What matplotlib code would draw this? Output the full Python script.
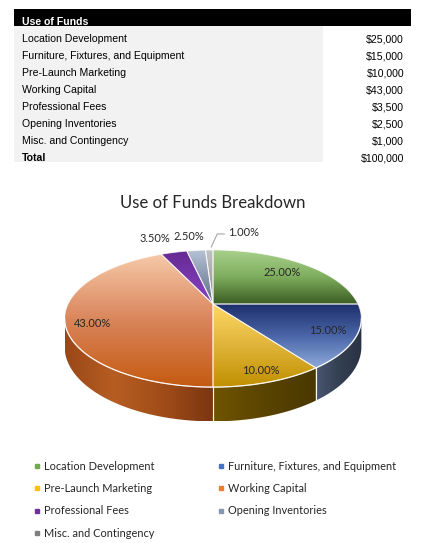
import numpy as np
import matplotlib
matplotlib.use('Agg')
import matplotlib.pyplot as plt
from matplotlib.patches import Polygon, Rectangle
from matplotlib.colors import LinearSegmentedColormap

# data
items = ['Location Development', 'Furniture, Fixtures, and Equipment',
         'Pre-Launch Marketing', 'Working Capital', 'Professional Fees',
         'Opening Inventories', 'Misc. and Contingency']
amounts = [25000, 15000, 10000, 43000, 3500, 2500, 1000]
table_title = 'Use of Funds'
total_label = 'Total'
chart_title = 'Use of Funds Breakdown'

# colours (top gradient, side gradient, legend)
top_colors = [['#a9d18e', '#7fae5e', '#3b5d24'],
              ['#1e2f6b', '#4a66a8', '#8eaadb'],
              ['#ffd966', '#e0b43a', '#c09000'],
              ['#f6c9a8', '#d9845a', '#c55a11'],
              ['#652a92', '#8a44c4'],
              ['#b6c2d4', '#5a6b86'],
              ['#c4c4c4', '#8c8c8c']]
side_colors = {1: ['#4a5670', '#333f52', '#2a3344'],
               2: ['#705400', '#5a4400', '#4a3800'],
               3: ['#9a4818', '#b65d22', '#a04c18', '#7a3510']}
legend_colors = ['#70ad47', '#4472c4', '#ffc000', '#ed7d31', '#7030a0',
                 '#8497b0', '#7f7f7f']

W, H = 430, 543
fig = plt.figure(figsize=(W / 100, H / 100), dpi=100)
ax = fig.add_axes([0, 0, 1, 1])
ax.set_xlim(0, W)
ax.set_ylim(H, 0)
ax.axis('off')

# ---------------- table ----------------
tfont = 'Liberation Sans'
tsize = 7.6
hdr = Rectangle((14, 9), 397, 17, facecolor='black', edgecolor='none')
ax.add_patch(hdr)
ax.add_patch(Rectangle((14, 26), 309, 136, facecolor='#f2f2f2', edgecolor='none'))
t = ax.text(22, 25.3, table_title, color='white', fontsize=tsize,
            fontweight='bold', family=tfont)
t.set_clip_path(hdr)

total = sum(amounts)
rows = items + [total_label]
vals = amounts + [total]
for i, (name, v) in enumerate(zip(rows, vals)):
    base = 42.3 + 17 * i
    bold = 'bold' if name == total_label else 'normal'
    clip = Rectangle((0, base - 14), W, 15.3, transform=ax.transData)
    t1 = ax.text(22, base, name, fontsize=tsize, family=tfont,
                 fontweight=bold, color='black')
    t2 = ax.text(404, base, '${:,}'.format(v), fontsize=tsize, family=tfont,
                 ha='right', color='black')
    t1.set_clip_path(clip)
    t2.set_clip_path(clip)

# ---------------- 3D pie ----------------
cfont = 'Lato'
CX, CY = 213, 304
RX, RY = 145, 65.5
K = 0.212
DEPTH = 27
SIL = np.degrees(np.arcsin(K))


def proj(theta, r=1.0, drop=0.0):
    t = np.radians(theta)
    u = r * np.cos(t)
    v = r * np.sin(t)
    w = 1 + K * v
    return CX + RX * u / w, CY - RY * v / w + drop / w


def arc(a, b, drop=0.0, n=80):
    th = np.linspace(a, b, n)
    x, y = proj(th, 1.0, drop)
    return np.column_stack([x, y])


def grad_fill(verts, colors, vertical=True, z=2):
    poly = Polygon(verts, closed=True, facecolor='none', edgecolor='none')
    ax.add_patch(poly)
    x0, x1 = verts[:, 0].min(), verts[:, 0].max()
    y0, y1 = verts[:, 1].min(), verts[:, 1].max()
    cmap = LinearSegmentedColormap.from_list('g', colors)
    ramp = np.linspace(0, 1, 256)
    img = ramp.reshape(-1, 1) if vertical else ramp.reshape(1, -1)
    im = ax.imshow(img, cmap=cmap, extent=(x0, x1, y1, y0), aspect='auto',
                   interpolation='bilinear', zorder=z)
    im.set_clip_path(poly)


fracs = np.array(amounts) / total
cum = np.concatenate([[0], np.cumsum(fracs)])
starts = 90 - 360 * cum[:-1]
ends = 90 - 360 * cum[1:]

# side walls
front_lo, front_hi = -180 + SIL, -SIL
for i in range(len(amounts)):
    hi = min(starts[i], front_hi)
    lo = max(ends[i], front_lo)
    if hi <= lo:
        continue
    top = arc(hi, lo)
    bot = arc(lo, hi, DEPTH)
    verts = np.vstack([top, bot])
    grad_fill(verts, side_colors[i], vertical=False, z=2)
    for a in (starts[i], ends[i]):
        if front_lo < a < front_hi:
            (xa, ya), (xb, yb) = proj(a), proj(a, 1, DEPTH)
            ax.plot([xa, xb], [ya, yb], color='white', lw=0.8, alpha=0.8, zorder=3)

# top faces
for i in range(len(amounts)):
    verts = np.vstack([[CX, CY], arc(starts[i], ends[i])])
    grad_fill(verts, top_colors[i], vertical=True, z=4)
    ax.add_patch(Polygon(verts, closed=True, facecolor='none',
                         edgecolor='white', lw=0.7, alpha=0.75, zorder=5))
rim = arc(front_lo, front_hi)
ax.plot(rim[:, 0], rim[:, 1], color='white', lw=0.9, alpha=0.8, zorder=5)

# data labels
mids = (starts + ends) / 2
lab_r = [0.75, 0.82, 0.88, 0.82]
lab_dy = [0, 0, 0, 7]
lab_out = [(-19, -14), (-7, -14), (34, -17)]
for i, f in enumerate(fracs):
    txt = '{:.2f}%'.format(f * 100)
    if i < len(lab_r):
        x, y = proj(mids[i], lab_r[i])
        y += lab_dy[i]
    else:
        ex, ey = proj(mids[i])
        dx, dy = lab_out[i - len(lab_r)]
        x, y = ex + dx, ey + dy
        if i == len(fracs) - 1:
            ax.plot([ex + 2, ex + 8, ex + 15], [ey - 3, ey - 16, ey - 16],
                    color='#a6a6a6', lw=0.8, zorder=6)
    ax.text(x, y, txt, ha='center', va='center', fontsize=7.9,
            family=cfont, color='#262626', zorder=7)

ax.text(213, 203, chart_title, ha='center', va='center', fontsize=12.1,
        family=cfont, color='#262626')

# legend
for i, name in enumerate(items):
    row, col = divmod(i, 2)
    lx = 37 + 184 * col
    ly = 466 + 22.4 * row
    ax.plot(lx, ly, 's', ms=2.8, color=legend_colors[i])
    ax.text(lx + 7, ly, name, va='center', fontsize=7.9, family=cfont,
            color='#262626')

ax.set_xlim(0, W)
ax.set_ylim(H, 0)
fig.savefig('out.png', dpi=100, facecolor='white')
